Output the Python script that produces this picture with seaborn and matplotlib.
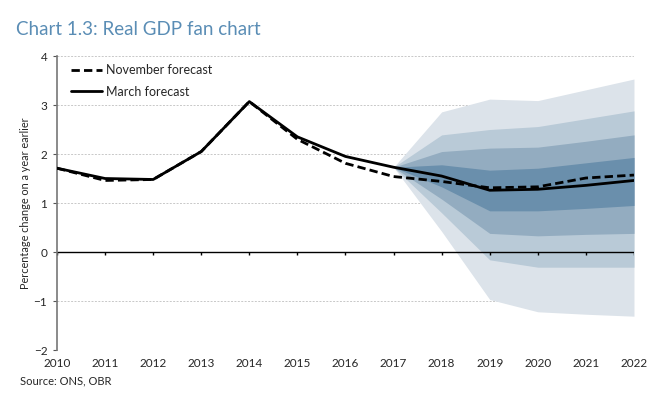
import numpy as np
import pandas as pd
import matplotlib
matplotlib.use('Agg')
import matplotlib.pyplot as plt
import seaborn as sns

# Chart values
years = list(range(2010, 2023))
march = [1.71, 1.50, 1.48, 2.05, 3.07, 2.35, 1.95, 1.73, 1.55, 1.26, 1.28, 1.36, 1.46]
november = [1.71, 1.46, 1.48, 2.05, 3.07, 2.30, 1.81, 1.54, 1.44, 1.31, 1.33, 1.51, 1.57]

fan_years = [2017, 2018, 2019, 2020, 2021, 2022]
# band edges, outer to inner (upper, lower)
fan_upper = [
    [1.73, 2.86, 3.12, 3.09, 3.31, 3.53],
    [1.73, 2.39, 2.50, 2.56, 2.72, 2.88],
    [1.73, 2.05, 2.12, 2.14, 2.26, 2.39],
    [1.73, 1.78, 1.67, 1.71, 1.82, 1.93],
]
fan_lower = [
    [1.73, 0.42, -0.97, -1.22, -1.27, -1.31],
    [1.73, 0.80, -0.16, -0.31, -0.31, -0.31],
    [1.73, 1.08, 0.38, 0.33, 0.36, 0.38],
    [1.73, 1.33, 0.84, 0.84, 0.89, 0.95],
]
fan_colors = ['#dce3ea', '#b9cad7', '#93acc0', '#6a8fac']

df = pd.DataFrame({'year': years * 2,
                   'value': november + march,
                   'series': ['November forecast'] * len(years) + ['March forecast'] * len(years)})

sns.set_theme(style='white')
plt.rcParams['font.family'] = ['Lato', 'DejaVu Sans']

fig = plt.figure(figsize=(6.58, 3.93), dpi=100)
ax = fig.add_axes([0.0866, 0.1094, 0.8769, 0.7481])

for up, lo, c in zip(fan_upper, fan_lower, fan_colors):
    ax.fill_between(fan_years, lo, up, color=c, lw=0, zorder=1)

for y in [-2, -1, 1, 2, 3, 4]:
    ax.axhline(y, color='#c8c8c8', lw=0.7, ls=(0, (2, 1.5)), zorder=0)
ax.axhline(0, color='black', lw=1.0, zorder=2)
ax.vlines(years, -0.07, 0, color='black', lw=1.0, zorder=2)

sns.lineplot(data=df, x='year', y='value', hue='series', style='series',
             palette=['black', 'black'], dashes={'November forecast': (3, 1.5), 'March forecast': ''},
             linewidth=2.0, ax=ax, zorder=3)

ax.set_xlim(2010, 2022)
ax.set_ylim(-2, 4)
ax.set_xticks(years)
ax.set_yticks(range(-2, 5))
ax.tick_params(axis='x', length=0, pad=6, labelsize=8.5)
ax.tick_params(axis='y', length=3, width=0.8, color='#555555', direction='out', pad=4, labelsize=8.5, left=True)
for s in ['top', 'right', 'bottom']:
    ax.spines[s].set_visible(False)
ax.spines['left'].set_color('#777777')
ax.spines['left'].set_linewidth(1.2)
ax.set_xlabel('')
ax.set_ylabel('Percentage change on a year earlier', fontsize=7.8, labelpad=2)

leg = ax.legend(loc='upper left', frameon=False, fontsize=9, handlelength=2.5,
                handletextpad=0.3, labelspacing=0.75, bbox_to_anchor=(0.005, 1.01))
for line in leg.get_lines():
    line.set_linewidth(2.0)

fig.text(0.024, 0.912, 'Chart 1.3: Real GDP fan chart', fontsize=13.5, color='#5a8db5')
fig.text(0.031, 0.022, 'Source: ONS, OBR', fontsize=8)

fig.savefig('out.png', dpi=100)
